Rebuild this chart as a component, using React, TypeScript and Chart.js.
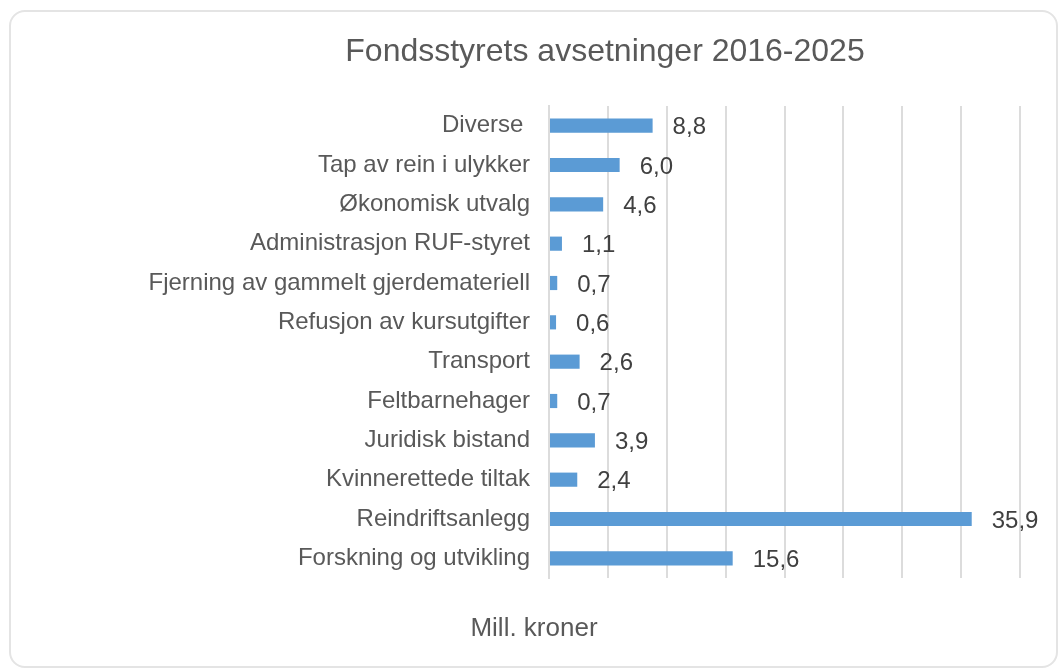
import React, { useEffect, useRef } from "react";
import { Chart, registerables } from "chart.js";

Chart.register(...registerables);

const categories = [
  "Diverse ",
  "Tap av rein i ulykker",
  "Økonomisk utvalg",
  "Administrasjon RUF-styret",
  "Fjerning av gammelt gjerdemateriell",
  "Refusjon av kursutgifter",
  "Transport",
  "Feltbarnehager",
  "Juridisk bistand",
  "Kvinnerettede tiltak",
  "Reindriftsanlegg",
  "Forskning og utvikling",
];

const values = [8.8, 6.0, 4.6, 1.1, 0.7, 0.6, 2.6, 0.7, 3.9, 2.4, 35.9, 15.6];

const chartTitle = "Fondsstyrets avsetninger 2016-2025";
const axisTitle = "Mill. kroner";
const xMin = 0;
const xMax = 40;
const xStep = 5;

const FONT = '"Liberation Sans", Arial, Helvetica, sans-serif';

const fmt = (v: number) => v.toFixed(1).replace(".", ",");

const textPlugin = {
  id: "textPlugin",
  afterDatasetsDraw(chart: any) {
    const ctx = chart.ctx as CanvasRenderingContext2D;
    const meta = chart.getDatasetMeta(0);
    ctx.save();
    ctx.font = `24px ${FONT}`;
    ctx.fillStyle = "#404040";
    ctx.textAlign = "left";
    ctx.textBaseline = "middle";
    meta.data.forEach((bar: any, i: number) => {
      ctx.fillText(fmt(values[i]), bar.x + 20, bar.y + 2);
    });
    ctx.fillStyle = "#595959";
    ctx.textAlign = "center";
    ctx.textBaseline = "alphabetic";
    ctx.font = `32px ${FONT}`;
    ctx.fillText(chartTitle, 605, 61);
    ctx.font = `26px ${FONT}`;
    ctx.fillText(axisTitle, 534, 636);
    ctx.restore();
  },
};

export default function App() {
  const canvasRef = useRef<HTMLCanvasElement | null>(null);

  useEffect(() => {
    if (!canvasRef.current) return;
    const chart = new Chart(canvasRef.current, {
      type: "bar",
      data: {
        labels: categories,
        datasets: [
          {
            data: values,
            backgroundColor: "#5b9bd5",
            borderWidth: 0,
            categoryPercentage: 1,
            barPercentage: 0.36,
          },
        ],
      },
      options: {
        indexAxis: "y",
        responsive: false,
        animation: false,
        maintainAspectRatio: false,
        layout: { padding: { left: 0, right: 39, top: 106, bottom: 92 } },
        plugins: {
          legend: { display: false },
          title: { display: false },
          tooltip: { enabled: false },
        },
        scales: {
          x: {
            min: xMin,
            max: xMax,
            ticks: { stepSize: xStep, display: false },
            grid: { color: "#dcdcdc", lineWidth: 2, drawTicks: false },
            border: { display: false },
            afterFit(scale: any) {
              scale.height = 0;
            },
          },
          y: {
            ticks: {
              color: "#595959",
              font: { family: FONT, size: 24 },
              padding: 19,
              autoSkip: false,
            },
            grid: { display: false, drawTicks: false },
            border: { display: true, color: "#dcdcdc", width: 2 },
            afterFit(scale: any) {
              scale.width = 549;
            },
          },
        },
      },
      plugins: [textPlugin],
    } as any);
    return () => chart.destroy();
  }, []);

  return (
    <div
      style={{
        position: "fixed",
        left: 0,
        top: 0,
        width: 1059,
        height: 670,
        background: "#ffffff",
        overflow: "hidden",
      }}
    >
      <div
        style={{
          position: "absolute",
          left: 9,
          top: 10,
          width: 1049,
          height: 658,
          boxSizing: "border-box",
          border: "2px solid #e4e4e4",
          borderRadius: 16,
        }}
      />
      <canvas
        ref={canvasRef}
        width={1059}
        height={670}
        style={{ position: "absolute", left: 0, top: 0, width: 1059, height: 670 }}
      />
    </div>
  );
}
